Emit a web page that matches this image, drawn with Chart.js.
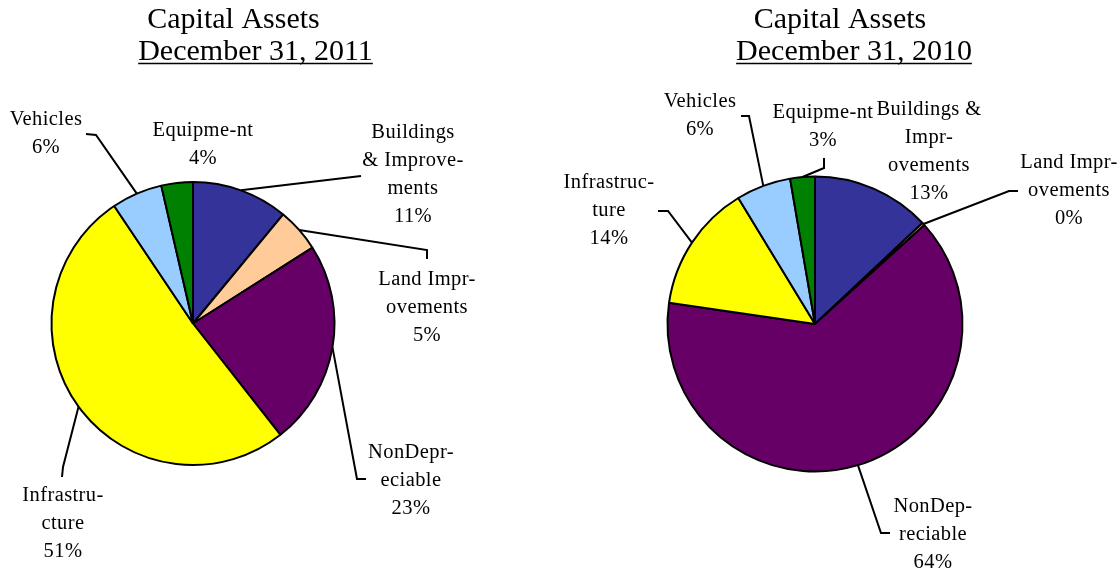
<!DOCTYPE html>
<html>
<head>
<meta charset="utf-8">
<script src="https://cdn.jsdelivr.net/npm/chart.js"></script>
<style>
  html, body { margin: 0; padding: 0; background: #fff; }
  .wrap { position: absolute; top: 0; width: 559px; height: 571px; }
  #left { left: 0; }
  #right { left: 559px; }
</style>
</head>
<body>
<div class="wrap" id="left"><canvas id="pie2011" width="559" height="571"></canvas></div>
<div class="wrap" id="right"><canvas id="pie2010" width="559" height="571"></canvas></div>
<script>
// data
const categories2011 = [
  ["Buildings", "& Improve-", "ments"],
  ["Land Impr-", "ovements"],
  ["NonDepr-", "eciable"],
  ["Infrastru-", "cture"],
  ["Vehicles"],
  ["Equipme-nt"],
];
const values2011 = [11, 5, 23.4, 51.2, 5.8, 3.6];

const categories2010 = [
  ["Buildings &", "Impr-", "ovements"],
  ["Land Impr-", "ovements"],
  ["NonDep-", "reciable"],
  ["Infrastruc-", "ture"],
  ["Vehicles"],
  ["Equipme-nt"],
];
const values2010 = [13, 0.3, 64, 14, 6, 2.7];

const sliceColors = ["#333399", "#FFCC99", "#660066", "#FFFF00", "#99CCFF", "#008000"];

// label layout (text centre x, first line y) and leader points, canvas px
const labelPos2011 = [[413, 133], [427, 280], [411, 453], [63, 496], [46, 120], [203, 131]];
const leaders2011 = [
  [[361, 176]],
  [[427, 250], [427, 259]],
  [[357, 479], [366, 479]],
  [[63, 467], [62, 477]],
  [[96, 135], [86, 134]],
  null,
];
const labelPos2010 = [[370, 110], [510, 163], [374, 507], [50, 183], [141, 102], [264, 113]];
const leaders2010 = [
  null,
  [[450, 191], [459, 191]],
  [[322, 533], [331, 533]],
  [[109, 211], [99, 211]],
  [[190, 116], [182, 116]],
  [[265, 168], [265, 158]],
];

const LABEL_FONT = '20.5px "Liberation Serif", "Times New Roman", serif';
const TITLE_FONT = '30px "Liberation Serif", "Times New Roman", serif';
const LINE_H = 28;

const titlePlugin = {
  id: "pageTitle",
  afterDraw(chart, args, opts) {
    const ctx = chart.ctx;
    ctx.save();
    ctx.fillStyle = "#000";
    ctx.font = TITLE_FONT;
    ctx.textAlign = "center";
    ctx.textBaseline = "alphabetic";
    ctx.fillText(opts.line1, opts.x1, opts.y1);
    ctx.fillText(opts.line2, opts.x2, opts.y2);
    const w = ctx.measureText(opts.line2).width;
    ctx.strokeStyle = "#000";
    ctx.lineWidth = 1.5;
    ctx.beginPath();
    ctx.moveTo(opts.x2 - w / 2, opts.y2 + 3.5);
    ctx.lineTo(opts.x2 + w / 2, opts.y2 + 3.5);
    ctx.stroke();
    ctx.restore();
  },
};

const calloutPlugin = {
  id: "callouts",
  afterDraw(chart, args, opts) {
    const ctx = chart.ctx;
    const meta = chart.getDatasetMeta(0);
    const data = chart.data.datasets[0].data;
    const total = data.reduce((a, b) => a + b, 0);
    ctx.save();
    ctx.strokeStyle = "#000";
    ctx.lineWidth = 2;
    meta.data.forEach((arc, i) => {
      const { x, y, startAngle, endAngle, outerRadius } = arc.getProps(
        ["x", "y", "startAngle", "endAngle", "outerRadius"],
        true
      );
      const pts = opts.leaders[i];
      if (pts) {
        const mid = (startAngle + endAngle) / 2;
        ctx.beginPath();
        ctx.moveTo(x + Math.cos(mid) * outerRadius, y + Math.sin(mid) * outerRadius);
        pts.forEach((p) => ctx.lineTo(p[0], p[1]));
        ctx.stroke();
      }
      const lines = chart.data.labels[i].concat([Math.round((data[i] / total) * 100) + "%"]);
      const [cx, cy] = opts.positions[i];
      ctx.fillStyle = "#000";
      ctx.font = LABEL_FONT;
      ctx.letterSpacing = "0.4px";
      ctx.textAlign = "center";
      ctx.textBaseline = "middle";
      lines.forEach((t, k) => ctx.fillText(t, cx, cy + k * LINE_H));
    });
    ctx.restore();
  },
};

function makePie(id, labels, values, padding, title, positions, leaders) {
  return new Chart(document.getElementById(id), {
    type: "pie",
    data: {
      labels: labels,
      datasets: [
        {
          data: values,
          backgroundColor: sliceColors,
          borderColor: "#000",
          borderWidth: 2,
        },
      ],
    },
    options: {
      responsive: false,
      animation: false,
      layout: { padding: padding },
      plugins: {
        legend: { display: false },
        tooltip: { enabled: false },
        pageTitle: title,
        callouts: { positions: positions, leaders: leaders },
      },
    },
    plugins: [titlePlugin, calloutPlugin],
  });
}

makePie(
  "pie2011",
  categories2011,
  values2011,
  { left: 50.5, right: 223.5, top: 181, bottom: 105 },
  { line1: "Capital Assets", x1: 233.5, y1: 28, line2: "December 31, 2011", x2: 255.5, y2: 60 },
  labelPos2011,
  leaders2011
);

makePie(
  "pie2010",
  categories2010,
  values2010,
  { left: 107.5, right: 154.5, top: 175.5, bottom: 98.5 },
  { line1: "Capital Assets", x1: 281, y1: 28, line2: "December 31, 2010", x2: 295, y2: 60 },
  labelPos2010,
  leaders2010
);
</script>
</body>
</html>
